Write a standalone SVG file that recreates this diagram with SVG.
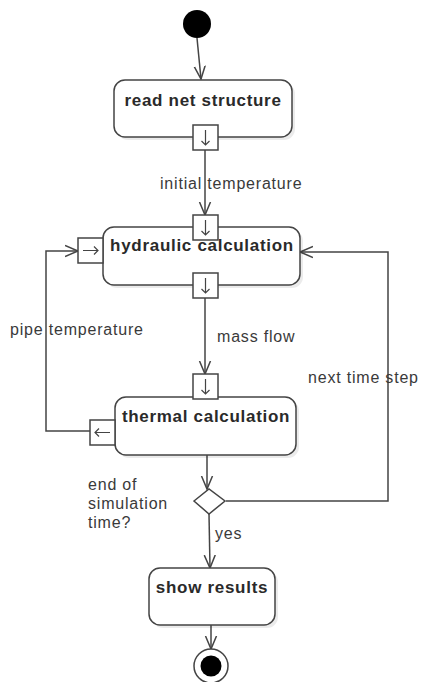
<svg xmlns="http://www.w3.org/2000/svg" width="423" height="682" viewBox="0 0 423 682">
<style>
.node{fill:#fff;stroke:#444;stroke-width:1.5}
.shadow{fill:#000;opacity:0.08}
.pin{fill:#fff;stroke:#444;stroke-width:1.5}
.pa{fill:none;stroke:#444;stroke-width:1.2}
.edge{fill:none;stroke:#444;stroke-width:1.5}
.nt{font-family:"Liberation Sans",Arial,sans-serif;font-weight:bold;font-size:17px;letter-spacing:0.7px;fill:#2a2a2a;text-anchor:middle}
.lb{font-family:"Liberation Sans",Arial,sans-serif;font-size:16px;letter-spacing:0.8px;fill:#3a3a3a}
</style>
<defs>
<marker id="arr" markerWidth="15" markerHeight="14" refX="13" refY="7" orient="auto" markerUnits="userSpaceOnUse">
<path d="M0,1.5 L13,7 L0,12.5" fill="none" stroke="#444" stroke-width="1.5"/>
</marker>
</defs>
<g id="connectors">
<path class="edge" d="M197,38 L201,79" marker-end="url(#arr)"/>
<path class="edge" d="M205,150 L205,215" marker-end="url(#arr)"/>
<path class="edge" d="M205,298 L205,374" marker-end="url(#arr)"/>
<path class="edge" d="M90,431 L46,431 L46,251 L78,251" marker-end="url(#arr)"/>
<path class="edge" d="M207,455 L207,489" marker-end="url(#arr)"/>
<path class="edge" d="M226,501 L388,501 L388,252 L300,252" marker-end="url(#arr)"/>
<path class="edge" d="M209,514 L210,568" marker-end="url(#arr)"/>
<path class="edge" d="M211,625 L211,649" marker-end="url(#arr)"/>
</g>
<g id="start"><circle cx="197" cy="24" r="14" fill="#000"/></g>
<g id="read">
<rect class="shadow" x="117" y="83" width="178" height="57" rx="11"/>
<rect class="node" x="114" y="80" width="178" height="57" rx="11"/>
<text class="nt" x="203" y="106">read net structure</text>
<rect class="pin" x="193" y="125" width="25" height="25"/>
<path class="pa" d="M205.5,130 V145 M201.5,141 L205.5,145 L209.5,141"/>
</g>
<g id="hydraulic">
<rect class="shadow" x="106" y="230" width="197" height="58" rx="11"/>
<rect class="node" x="103" y="227" width="197" height="58" rx="11"/>
<text class="nt" x="202" y="251">hydraulic calculation</text>
<rect class="pin" x="193" y="215" width="25" height="25"/>
<path class="pa" d="M205.5,220 V235 M201.5,231 L205.5,235 L209.5,231"/>
<rect class="pin" x="78" y="238" width="25" height="25"/>
<path class="pa" d="M83,250.5 H98 M94,246.5 L98,250.5 L94,254.5"/>
<rect class="pin" x="193" y="273" width="25" height="25"/>
<path class="pa" d="M205.5,278 V293 M201.5,289 L205.5,293 L209.5,289"/>
</g>
<g id="thermal">
<rect class="shadow" x="118" y="400" width="181" height="58" rx="11"/>
<rect class="node" x="115" y="397" width="181" height="58" rx="11"/>
<text class="nt" x="206" y="422">thermal calculation</text>
<rect class="pin" x="193" y="374" width="25" height="25"/>
<path class="pa" d="M205.5,379 V394 M201.5,390 L205.5,394 L209.5,390"/>
<rect class="pin" x="90" y="420" width="25" height="25"/>
<path class="pa" d="M110,432.5 H95 M99,428.5 L95,432.5 L99,436.5"/>
</g>
<g id="decision">
<path class="node" d="M194,501 L209,489 L225,501 L209,514 Z"/>
</g>
<g id="show">
<rect class="shadow" x="152" y="571" width="126" height="57" rx="11"/>
<rect class="node" x="149" y="568" width="126" height="57" rx="11"/>
<text class="nt" x="212" y="593">show results</text>
</g>
<g id="end">
<circle cx="211" cy="666" r="17" fill="#fff" stroke="#444" stroke-width="1.5"/>
<circle cx="211" cy="666" r="10.5" fill="#000"/>
</g>
<g id="labels">
<text class="lb" x="160" y="189">initial temperature</text>
<text class="lb" x="10" y="335">pipe temperature</text>
<text class="lb" x="217" y="342">mass flow</text>
<text class="lb" x="308" y="383">next time step</text>
<text class="lb" x="88" y="490">end of</text>
<text class="lb" x="88" y="509">simulation</text>
<text class="lb" x="88" y="528">time?</text>
<text class="lb" x="215" y="539">yes</text>
</g>
</svg>
